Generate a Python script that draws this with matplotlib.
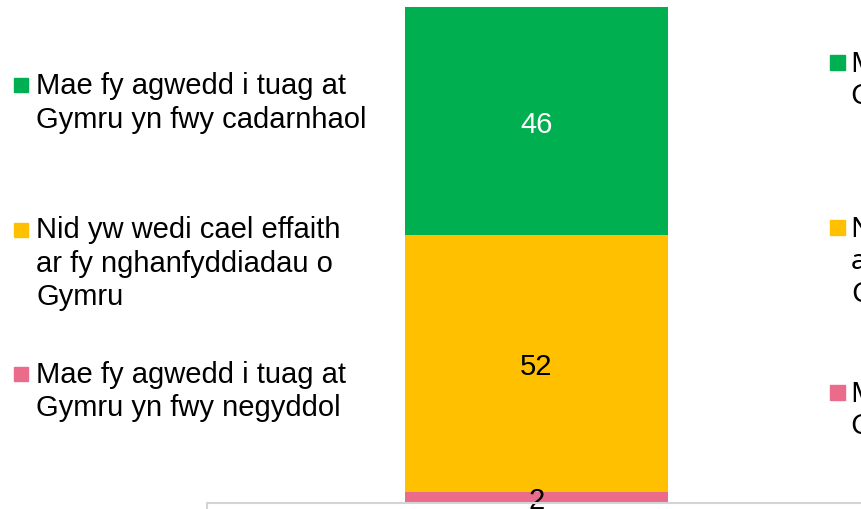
import matplotlib.pyplot as plt
from matplotlib.patches import Rectangle

W, H = 861, 510

categories = ['Mae fy agwedd i tuag at\nGymru yn fwy cadarnhaol',
              'Nid yw wedi cael effaith\nar fy nghanfyddiadau o\nGymru',
              'Mae fy agwedd i tuag at\nGymru yn fwy negyddol']
values = [46, 52, 2]
colors = ['#00B050', '#FFC000', '#EA6C8A']
label_colors = ['white', 'black', 'black']

plt.rcParams['font.family'] = ['Liberation Sans', 'DejaVu Sans']

fig = plt.figure(figsize=(W / 100, H / 100), dpi=100)

# pixel -> figure fraction (y measured from the top)
def fx(px):
    return px / W

def fy(py):
    return 1 - py / H

ax = fig.add_axes([fx(207), fy(503), fx(861) - fx(207), fy(8) - fy(503)])
ax.set_xlim(-0.5038, 0.4962)
ax.set_ylim(0, 100)
ax.axis('off')

# stacked from the top: green, yellow, pink
bottom = 100
for v, c, lc in zip(values, colors, label_colors):
    bottom -= v
    ax.bar(0, v, bottom=bottom, width=263 / 654, color=c, zorder=2)
    ax.text(0, bottom + v / 2, str(v), ha='center', va='center_baseline',
            fontsize=21, color=lc, zorder=5, clip_on=False)

# frame of the panel underneath
fig.patches.append(Rectangle((fx(207), fy(540)), fx(900) - fx(207), fy(504) - fy(540),
                             transform=fig.transFigure, fill=False,
                             edgecolor='#d4d4d4', lw=1.5, zorder=1))

# left legend
for i, (lab, c) in enumerate(zip(categories, colors)):
    base = 94 + i * 144.5
    fig.patches.append(Rectangle((fx(14), fy(base - 1)), fx(14), fy(0) - fy(14),
                                 transform=fig.transFigure, color=c))
    for j, line in enumerate(lab.split('\n')):
        fig.text(fx(36), fy(base + j * 33.5), line, fontsize=21,
                 va='baseline', ha='left')

# right legend, cut off by the edge
for i, (lab, c) in enumerate(zip(categories, colors)):
    base = 72 + i * 165
    fig.patches.append(Rectangle((fx(830), fy(base - 1)), fx(15), fy(0) - fy(15),
                                 transform=fig.transFigure, color=c))
    for j, line in enumerate(lab.split('\n')):
        fig.text(fx(851), fy(base + j * 32.5), line, fontsize=20,
                 va='baseline', ha='left', family=['Noto Sans', 'DejaVu Sans'])

fig.savefig('out.png', dpi=100)
